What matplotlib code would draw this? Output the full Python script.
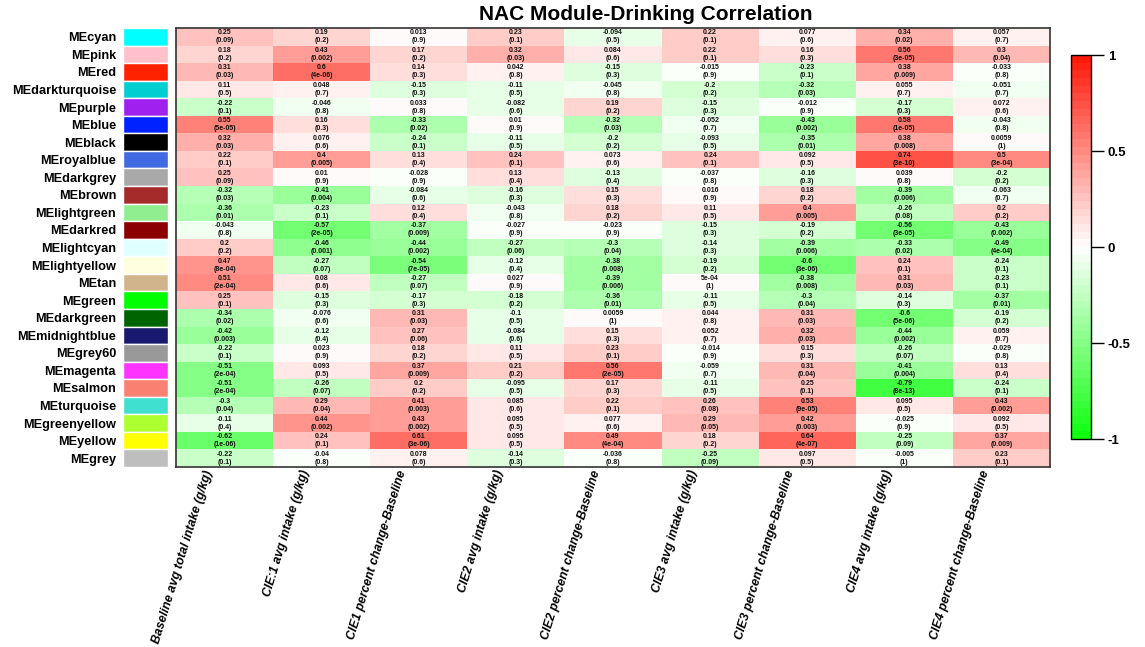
import numpy as np
import matplotlib.pyplot as plt
from matplotlib.colors import LinearSegmentedColormap
from matplotlib.patches import Rectangle

plt.rcParams['font.family'] = ['Liberation Sans', 'DejaVu Sans']

modules = ['MEcyan', 'MEpink', 'MEred', 'MEdarkturquoise', 'MEpurple', 'MEblue',
           'MEblack', 'MEroyalblue', 'MEdarkgrey', 'MEbrown', 'MElightgreen',
           'MEdarkred', 'MElightcyan', 'MElightyellow', 'MEtan', 'MEgreen',
           'MEdarkgreen', 'MEmidnightblue', 'MEgrey60', 'MEmagenta', 'MEsalmon',
           'MEturquoise', 'MEgreenyellow', 'MEyellow', 'MEgrey']
module_colors = ['#00FFFF', '#FFC0CB', '#FF2200', '#00CED1', '#A020F0', '#0022FF',
                 '#000000', '#4169E1', '#A9A9A9', '#A52A2A', '#90EE90',
                 '#8B0000', '#E0FFFF', '#FFFFE0', '#D2B48C', '#00FF00',
                 '#006400', '#191970', '#999999', '#FF33FF', '#FA8072',
                 '#40E0D0', '#ADFF2F', '#FFFF00', '#BEBEBE']
traits = ['Baseline avg total intake (g/kg)', 'CIE:1 avg intake (g/kg)',
          'CIE1 percent change-Baseline', 'CIE2 avg intake (g/kg)',
          'CIE2 percent change-Baseline', 'CIE3 avg intake (g/kg)',
          'CIE3 percent change-Baseline', 'CIE4 avg intake (g/kg)',
          'CIE4 percent change-Baseline']

# module-trait correlations (rows = modules, cols = traits)
cor_values = [
    [0.25, 0.19, 0.013, 0.23, -0.094, 0.22, 0.077, 0.34, 0.057],
    [0.18, 0.43, 0.17, 0.32, 0.084, 0.22, 0.16, 0.56, 0.3],
    [0.31, 0.6, 0.14, 0.042, -0.15, -0.015, -0.23, 0.38, -0.033],
    [0.11, 0.048, -0.15, -0.11, -0.045, -0.2, -0.32, 0.055, -0.051],
    [-0.22, -0.046, 0.033, -0.082, 0.19, -0.15, -0.012, -0.17, 0.072],
    [0.55, 0.16, -0.33, 0.01, -0.32, -0.052, -0.43, 0.58, -0.043],
    [0.32, 0.076, -0.24, -0.11, -0.2, -0.093, -0.35, 0.38, 0.0059],
    [0.22, 0.4, 0.13, 0.24, 0.073, 0.24, 0.092, 0.74, 0.5],
    [0.25, 0.01, -0.028, 0.13, -0.13, -0.037, -0.16, 0.039, -0.2],
    [-0.32, -0.41, -0.084, -0.16, 0.15, 0.016, 0.18, -0.39, -0.063],
    [-0.36, -0.23, 0.12, -0.043, 0.18, 0.11, 0.4, -0.26, 0.2],
    [-0.043, -0.57, -0.37, -0.027, -0.023, -0.15, -0.19, -0.56, -0.43],
    [0.2, -0.46, -0.44, -0.27, -0.3, -0.14, -0.39, -0.33, -0.49],
    [0.47, -0.27, -0.54, -0.12, -0.38, -0.19, -0.6, 0.24, -0.24],
    [0.51, 0.08, -0.27, 0.027, -0.39, 5e-04, -0.38, 0.31, -0.23],
    [0.25, -0.15, -0.17, -0.18, -0.36, -0.11, -0.3, -0.14, -0.37],
    [-0.34, -0.076, 0.31, -0.1, 0.0059, 0.044, 0.31, -0.6, -0.19],
    [-0.42, -0.12, 0.27, -0.084, 0.15, 0.052, 0.32, -0.44, 0.059],
    [-0.22, 0.023, 0.18, 0.11, 0.23, -0.014, 0.15, -0.26, -0.029],
    [-0.51, 0.093, 0.37, 0.21, 0.56, -0.059, 0.31, -0.41, 0.13],
    [-0.51, -0.26, 0.2, -0.095, 0.17, -0.11, 0.25, -0.79, -0.24],
    [-0.3, 0.29, 0.41, 0.085, 0.22, 0.26, 0.53, 0.095, 0.43],
    [-0.11, 0.44, 0.43, 0.095, 0.077, 0.29, 0.42, -0.025, 0.092],
    [-0.62, 0.24, 0.61, 0.095, 0.49, 0.18, 0.64, -0.25, 0.37],
    [-0.22, -0.04, 0.078, -0.14, -0.036, -0.25, 0.097, -0.005, 0.23],
]

p_values = [
    [0.09, 0.2, 0.9, 0.1, 0.5, 0.1, 0.6, 0.02, 0.7],
    [0.2, 0.002, 0.2, 0.03, 0.6, 0.1, 0.3, 3e-05, 0.04],
    [0.03, 4e-06, 0.3, 0.8, 0.3, 0.9, 0.1, 0.009, 0.8],
    [0.5, 0.7, 0.3, 0.5, 0.8, 0.2, 0.03, 0.7, 0.7],
    [0.1, 0.8, 0.8, 0.6, 0.2, 0.3, 0.9, 0.3, 0.6],
    [5e-05, 0.3, 0.02, 0.9, 0.03, 0.7, 0.002, 1e-05, 0.8],
    [0.03, 0.6, 0.1, 0.5, 0.2, 0.5, 0.01, 0.008, 1],
    [0.1, 0.005, 0.4, 0.1, 0.6, 0.1, 0.5, 3e-10, 3e-04],
    [0.09, 0.9, 0.9, 0.4, 0.4, 0.8, 0.3, 0.8, 0.2],
    [0.03, 0.004, 0.6, 0.3, 0.3, 0.9, 0.2, 0.006, 0.7],
    [0.01, 0.1, 0.4, 0.8, 0.2, 0.5, 0.005, 0.08, 0.2],
    [0.8, 2e-05, 0.009, 0.9, 0.9, 0.3, 0.2, 3e-05, 0.002],
    [0.2, 0.001, 0.002, 0.06, 0.04, 0.3, 0.006, 0.02, 4e-04],
    [8e-04, 0.07, 7e-05, 0.4, 0.008, 0.2, 3e-06, 0.1, 0.1],
    [2e-04, 0.6, 0.07, 0.9, 0.006, 1, 0.008, 0.03, 0.1],
    [0.1, 0.3, 0.3, 0.2, 0.01, 0.5, 0.04, 0.3, 0.01],
    [0.02, 0.6, 0.03, 0.5, 1, 0.8, 0.03, 5e-06, 0.2],
    [0.003, 0.4, 0.06, 0.6, 0.3, 0.7, 0.03, 0.002, 0.7],
    [0.1, 0.9, 0.2, 0.5, 0.1, 0.9, 0.3, 0.07, 0.8],
    [2e-04, 0.5, 0.009, 0.2, 2e-05, 0.7, 0.04, 0.004, 0.4],
    [2e-04, 0.07, 0.2, 0.5, 0.3, 0.5, 0.1, 8e-13, 0.1],
    [0.04, 0.04, 0.003, 0.6, 0.1, 0.08, 9e-05, 0.5, 0.002],
    [0.4, 0.002, 0.002, 0.5, 0.6, 0.05, 0.003, 0.9, 0.5],
    [1e-06, 0.1, 3e-06, 0.5, 4e-04, 0.2, 4e-07, 0.09, 0.009],
    [0.1, 0.8, 0.6, 0.3, 0.8, 0.09, 0.5, 1, 0.1],
]


def fmt(v):
    # R-style signif() printing
    if v != 0 and abs(v) < 1e-3:
        return f"{v:.0e}"
    return f"{v:g}"


cor = np.array(cor_values)
nrow, ncol = cor.shape
cmap = LinearSegmentedColormap.from_list('gwr', ['#10ff10', '#ffffff', '#ff1a0a'], N=50)

W, H = 1145, 647
fig = plt.figure(figsize=(W / 100, H / 100), dpi=100)
fig.patch.set_facecolor('white')

left, right, top, bottom = 176, 1050, 28, 467
ax = fig.add_axes([left / W, 1 - bottom / H, (right - left) / W, (bottom - top) / H])
mesh = ax.pcolormesh(np.arange(ncol + 1), np.arange(nrow + 1), cor, cmap=cmap,
                     vmin=-1, vmax=1)
ax.set_xlim(0, ncol)
ax.set_ylim(nrow, 0)
ax.set_xticks([])
ax.set_yticks([])
for s in ax.spines.values():
    s.set_color('#333333')
    s.set_linewidth(1.2)

for i in range(nrow):
    for j in range(ncol):
        ax.text(j + 0.5, i + 0.5, f"{fmt(cor_values[i][j])}\n({fmt(p_values[i][j])})",
                ha='center', va='center', fontsize=5, fontweight='bold',
                color='#111111', linespacing=1.2)

# trait labels under the heatmap
for j, lab in enumerate(traits):
    ax.text(j + 0.5 - 16 / 97, nrow + 0.2, lab, rotation=73, rotation_mode='anchor',
            ha='right', va='center', fontsize=8.8, fontweight='bold', style='italic',
            clip_on=False)

# module colour swatches with row labels
ax_sw = fig.add_axes([123 / W, 1 - bottom / H, 45 / W, (bottom - top) / H])
for i, c in enumerate(module_colors):
    ax_sw.add_patch(Rectangle((0, i), 1, 1, facecolor=c, edgecolor='white', linewidth=1))
ax_sw.set_xlim(0, 1)
ax_sw.set_ylim(nrow, 0)
ax_sw.set_xticks([])
ax_sw.set_yticks(np.arange(nrow) + 0.5)
ax_sw.set_yticklabels(modules, fontsize=9.2, fontweight='bold')
ax_sw.tick_params(axis='y', length=0, pad=5)
for s in ax_sw.spines.values():
    s.set_visible(False)

# colour key
cax = fig.add_axes([1071 / W, 1 - 439 / H, 20 / W, 384 / H])
cb = fig.colorbar(mesh, cax=cax, ticks=[-1, -0.5, 0, 0.5, 1])
cb.ax.set_yticklabels(['-1', '-0.5', '0', '0.5', '1'], fontsize=9.5, fontweight='bold')
cb.ax.tick_params(length=9, width=1, pad=3)
cb.outline.set_linewidth(1)

fig.text(646 / W, 1 - 15 / H, 'NAC Module-Drinking Correlation', ha='center', va='center',
         fontsize=15, fontweight='bold')

fig.savefig('out.png', dpi=100)
